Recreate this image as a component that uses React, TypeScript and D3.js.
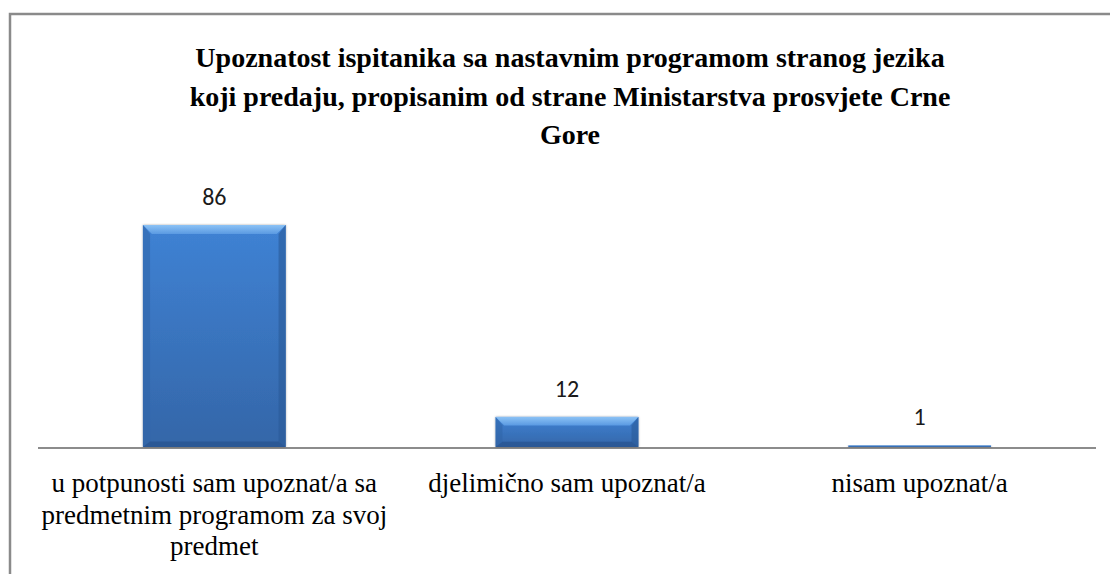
import React, { useEffect, useRef } from "react";
import * as d3 from "d3";

const TITLE_LINES = [
  "Upoznatost ispitanika sa nastavnim programom stranog jezika",
  "koji predaju, propisanim od strane Ministarstva prosvjete Crne",
  "Gore",
];
const CATEGORIES = [
  "u potpunosti sam upoznat/a sa predmetnim programom za svoj predmet",
  "djelimično sam upoznat/a",
  "nisam upoznat/a",
];
const CATEGORY_LINES = [
  ["u potpunosti sam upoznat/a sa", "predmetnim programom za svoj", "predmet"],
  ["djelimično sam upoznat/a"],
  ["nisam upoznat/a"],
];
const VALUES = [86, 12, 1];

const W = 1110;
const H = 574;
const AXIS_Y = 448;
const PLOT_LEFT = 38;
const PLOT_RIGHT = 1096;

export default function App() {
  const ref = useRef<SVGSVGElement>(null);
  const x = d3.scaleBand<number>().domain(d3.range(CATEGORIES.length)).range([PLOT_LEFT, PLOT_RIGHT]).padding(0);
  const y = d3.scaleLinear().domain([0, 100]).range([AXIS_Y, AXIS_Y - 259.3]);
  const barW = x.bandwidth() * 0.405;

  useEffect(() => {
    if (!ref.current) return;
    const svg = d3.select(ref.current);
    svg.selectAll("text.serif").style("font-family", "'Liberation Serif'", "important");
    svg.selectAll("text.sans").style("font-family", "'Carlito'", "important");
  }, []);

  return (
    <div style={{ position: "absolute", left: 0, top: 0 }}>
      <svg ref={ref} width={W} height={H}>
        <defs>
          <linearGradient id="barGrad" x1="0" y1="0" x2="0" y2="1">
            <stop offset="0" stopColor="#3f82d4" />
            <stop offset="1" stopColor="#3466a8" />
          </linearGradient>
          <linearGradient id="topBevel" x1="0" y1="0" x2="0" y2="1">
            <stop offset="0" stopColor="#8cc2f5" />
            <stop offset="1" stopColor="#5a9ae2" />
          </linearGradient>
          <filter id="shadow" x="-10%" y="-10%" width="120%" height="120%">
            <feDropShadow dx="0" dy="0" stdDeviation="1.2" floodColor="#000" floodOpacity="0.35" />
          </filter>
        </defs>
        <rect x={10} y={14} width={1300} height={800} fill="#fff" stroke="#8a8a8a" strokeWidth={2.5} />
        {TITLE_LINES.map((t, i) => (
          <text
            key={i}
            className="serif"
            x={570}
            y={67 + i * 38.5}
            textAnchor="middle"
            fontFamily="'Liberation Serif'"
            fontWeight="bold"
            fontSize={28}
          >
            {t}
          </text>
        ))}
        <line x1={PLOT_LEFT} x2={PLOT_RIGHT} y1={AXIS_Y} y2={AXIS_Y} stroke="#8c8c8c" strokeWidth={2} />
        {VALUES.map((v, i) => {
          const cx = (x(i) as number) + x.bandwidth() / 2;
          const x0 = cx - barW / 2;
          const x1 = cx + barW / 2;
          const yt = y(v);
          const yb = AXIS_Y - 1;
          const h = yb - yt;
          const b = Math.min(9, h / 3.5, barW / 3);
          return (
            <g key={i}>
              <g filter="url(#shadow)">
                <rect x={x0} y={yt} width={barW} height={Math.max(h, 1.5)} fill="url(#barGrad)" />
              </g>
              {h > 6 && (
                <g>
                  <polygon points={`${x0},${yt} ${x1},${yt} ${x1 - b},${yt + b} ${x0 + b},${yt + b}`} fill="url(#topBevel)" />
                  <polygon points={`${x0},${yt} ${x0 + b * 0.8},${yt + b} ${x0 + b * 0.8},${yb - b * 0.6} ${x0},${yb}`} fill="#2f64a8" opacity={0.55} />
                  <polygon points={`${x1},${yt} ${x1 - b * 0.8},${yt + b} ${x1 - b * 0.8},${yb - b * 0.6} ${x1},${yb}`} fill="#2a5a98" opacity={0.6} />
                  <polygon points={`${x0},${yb} ${x1},${yb} ${x1 - b * 0.8},${yb - b * 0.6} ${x0 + b * 0.8},${yb - b * 0.6}`} fill="#244f88" opacity={0.6} />
                </g>
              )}
              <text className="sans" x={cx} y={yt - 20} textAnchor="middle" fontFamily="'Carlito'" fontSize={24} fill="#1a1a1a">
                {v}
              </text>
              {CATEGORY_LINES[i].map((line, j) => (
                <text key={j} className="serif" x={cx} y={492 + j * 31.5} textAnchor="middle" fontFamily="'Liberation Serif'" fontSize={27}>
                  {line}
                </text>
              ))}
            </g>
          );
        })}
      </svg>
    </div>
  );
}
